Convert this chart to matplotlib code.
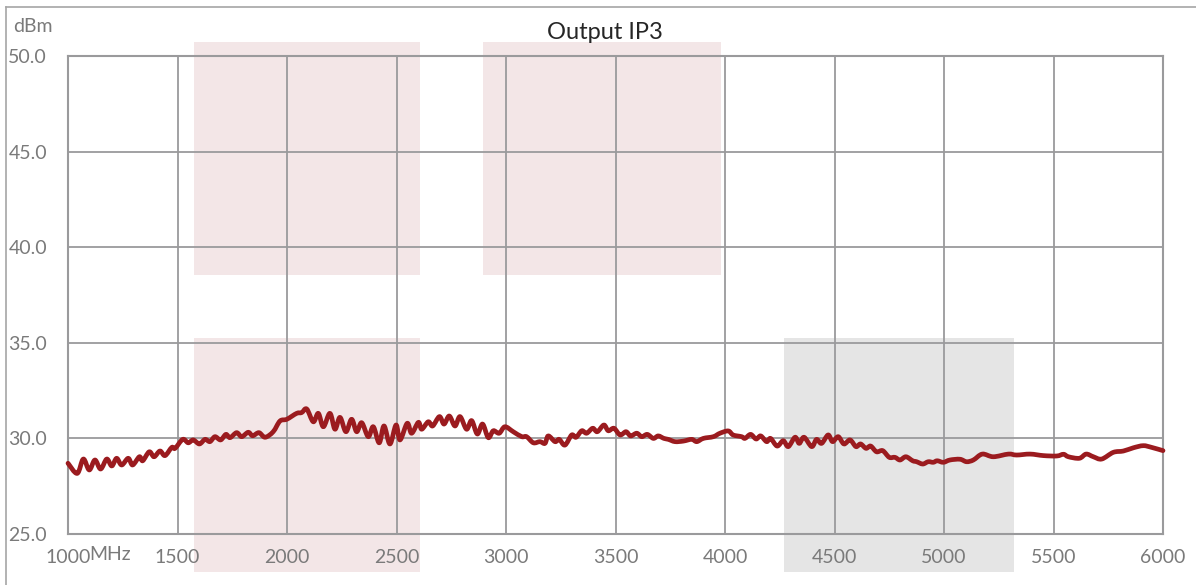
import matplotlib
matplotlib.use('Agg')
import matplotlib.pyplot as plt
import numpy as np
from matplotlib.patches import Rectangle, PathPatch
from matplotlib.path import Path
from matplotlib.lines import Line2D

plt.rcParams['font.family'] = ['Lato', 'DejaVu Sans']

freq = [1000, 1042, 1070, 1097, 1123, 1149, 1177, 1200, 1222, 1245, 1275, 1295,
        1326, 1341, 1371, 1393, 1420, 1443, 1474, 1489, 1524, 1549, 1572, 1600,
        1626, 1648, 1671, 1697, 1721, 1740, 1770, 1793, 1823, 1843, 1872, 1900,
        1937, 1968, 1999, 2044, 2067, 2090,
        2120, 2143, 2166, 2196, 2219, 2242, 2269, 2295, 2318, 2341, 2371, 2394,
        2421, 2443, 2470, 2498, 2516, 2549, 2569, 2600, 2615, 2645, 2665, 2696,
        2717, 2741, 2767, 2790, 2820, 2843, 2869, 2893, 2919, 2942, 2969, 2995,
        3033, 3072, 3094, 3125, 3155, 3178,
        3193, 3224, 3243, 3269, 3300, 3320, 3346, 3368, 3396, 3417, 3447, 3467,
        3493, 3521, 3548, 3569, 3597, 3620, 3645, 3673, 3695, 3721, 3741, 3772,
        3810, 3848, 3871, 3901, 3947, 3977, 4015, 4037, 4076, 4091, 4117, 4142,
        4163, 4190, 4208, 4238, 4266,
        4289, 4320, 4339, 4361, 4396, 4418, 4441, 4471, 4491, 4517, 4543, 4571,
        4598, 4619, 4644, 4665, 4692, 4720, 4750, 4776, 4799, 4826, 4857, 4875,
        4903, 4928, 4951, 4969, 4997, 5027, 5073, 5103, 5134, 5175, 5225,
        5294, 5332, 5393, 5454, 5515, 5546, 5568, 5618, 5649, 5682, 5720, 5773,
        5819, 5865, 5910, 5948, 6000]
ip3 = [28.70, 28.17, 28.92, 28.35, 28.87, 28.40, 28.92, 28.56, 28.96, 28.61, 28.96, 28.61,
       29.04, 28.83, 29.30, 29.04, 29.34, 29.10, 29.53, 29.48, 29.95, 29.77, 29.92, 29.71,
       29.95, 29.83, 30.09, 29.92, 30.21, 30.04, 30.30, 30.09, 30.32, 30.14, 30.30, 30.06,
       30.35, 30.91, 31.00, 31.31, 31.35, 31.54,
       30.87, 31.31, 30.61, 31.31, 30.48, 31.10, 30.35, 31.00, 30.35, 30.82, 30.09, 30.61,
       29.77, 30.65, 29.71, 30.70, 29.92, 30.79, 30.27, 30.84, 30.48, 30.87, 30.65, 31.14,
       30.75, 31.17, 30.65, 31.14, 30.48, 30.93, 30.23, 30.75, 30.04, 30.40, 30.27, 30.61,
       30.35, 30.09, 30.09, 29.77, 29.83, 29.74,
       30.13, 29.83, 29.95, 29.65, 30.18, 30.06, 30.40, 30.27, 30.53, 30.35, 30.70, 30.40,
       30.53, 30.18, 30.35, 30.13, 30.27, 30.09, 30.21, 30.00, 30.13, 30.00, 29.95, 29.83,
       29.86, 29.95, 29.83, 30.00, 30.09, 30.27, 30.39, 30.18, 30.09, 30.00, 30.21, 29.97,
       30.13, 29.83, 30.00, 29.60, 29.88,
       29.57, 30.06, 29.74, 30.06, 29.57, 29.95, 29.74, 30.18, 29.83, 30.09, 29.71, 29.92,
       29.57, 29.71, 29.48, 29.60, 29.30, 29.36, 29.01, 29.01, 28.87, 29.04, 28.83, 28.78,
       28.66, 28.78, 28.75, 28.83, 28.75, 28.87, 28.91, 28.78, 28.87, 29.18, 29.04,
       29.18, 29.13, 29.18, 29.10, 29.08, 29.17, 29.04, 28.96, 29.18, 29.04, 28.92, 29.27,
       29.34, 29.51, 29.62, 29.53, 29.36]

x_ticks = [1000, 1500, 2000, 2500, 3000, 3500, 4000, 4500, 5000, 5500, 6000]
y_ticks = [25.0, 30.0, 35.0, 40.0, 45.0, 50.0]

# highlighted bands: (f_start, f_stop, y_low, y_high, colour)
bands = [
    (1575, 2607, 38.55, 50.75, '#f3e6e7'),
    (2895, 3982, 38.55, 50.75, '#f3e6e7'),
    (1575, 2607, 23.0, 35.25, '#f3e6e7'),
    (4269, 5320, 23.0, 35.25, '#e5e5e5'),
]

grid_col = '#9a9a9c'
text_col = '#7a7a7a'


def smooth_path(xs, ys):
    """Excel-style smoothed line: Catmull-Rom segments as cubic Beziers."""
    p = np.column_stack([xs, ys]).astype(float)
    ext = np.vstack([p[0], p, p[-1]])
    verts = [p[0]]
    codes = [Path.MOVETO]
    for i in range(1, len(ext) - 2):
        p0, p1, p2, p3 = ext[i - 1], ext[i], ext[i + 1], ext[i + 2]
        verts += [p1 + (p2 - p0) / 6., p2 - (p3 - p1) / 6., p2]
        codes += [Path.CURVE4] * 3
    return Path(verts, codes)


fig = plt.figure(figsize=(11.96, 5.85), dpi=100)
ax = fig.add_axes([68 / 1196, 1 - 534 / 585, (1163 - 68) / 1196, (534 - 56) / 585])
ax.set_facecolor('none')
ax.set_axisbelow(True)

for f0, f1, y0, y1, col in bands:
    ax.add_patch(Rectangle((f0, y0), f1 - f0, y1 - y0, facecolor=col,
                           edgecolor='none', clip_on=False, zorder=0.1))

ax.add_patch(PathPatch(smooth_path(freq, ip3), facecolor='none', edgecolor='#9b1b1f',
                       lw=3.4, capstyle='round', joinstyle='round', zorder=3,
                       clip_on=False))

ax.set_xlim(1000, 6000)
ax.set_ylim(25, 50)
ax.set_xticks(x_ticks)
ax.set_yticks(y_ticks)
ax.set_yticklabels(['%.1f' % v for v in y_ticks])
ax.grid(True, color=grid_col, lw=1.3)
ax.tick_params(length=0, labelsize=14, labelcolor=text_col)
ax.tick_params(axis='x', pad=11)
ax.tick_params(axis='y', pad=15)
for sp in ax.spines.values():
    sp.set_color(grid_col)
    sp.set_linewidth(1.5)

fig.text(13 / 1196, 1 - 32 / 585, 'dBm', fontsize=14, color=text_col, va='baseline')
fig.text(89 / 1196, 1 - 560 / 585, 'MHz', fontsize=14, color=text_col, va='baseline')
fig.text(605 / 1196, 1 - 39 / 585, 'Output IP3', fontsize=17, color='#262626',
         ha='center', va='baseline')

# outer chart frame
fig.add_artist(Line2D([6 / 1196, 1.0], [1 - 7 / 585, 1 - 7 / 585],
                      transform=fig.transFigure, color='#a6a6a6', lw=1.2))
fig.add_artist(Line2D([6 / 1196, 6 / 1196], [0.0, 1 - 7 / 585],
                      transform=fig.transFigure, color='#a6a6a6', lw=1.2))

fig.savefig('out.png', dpi=100)
